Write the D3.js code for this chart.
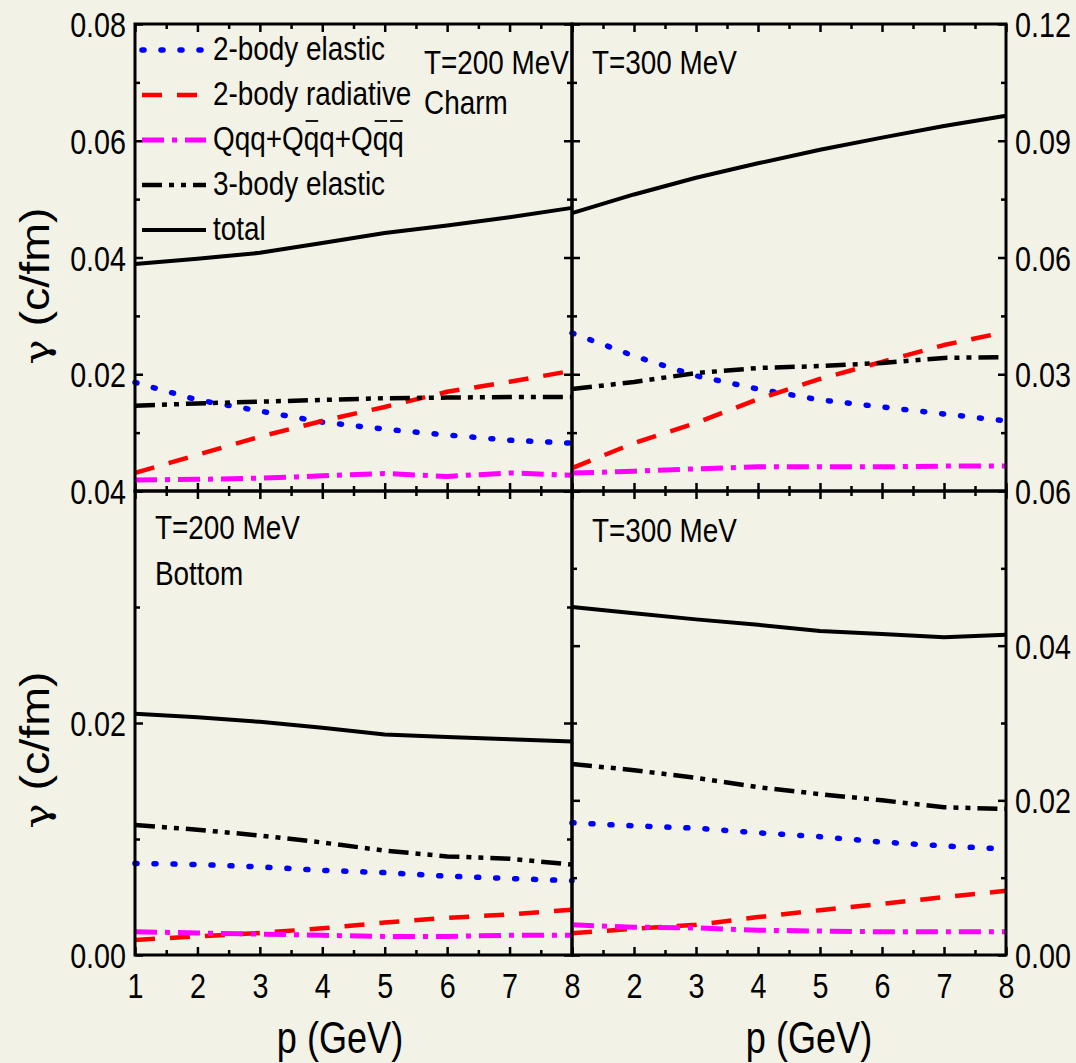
<!DOCTYPE html>
<html><head><meta charset="utf-8">
<script src="https://cdn.jsdelivr.net/npm/d3@7"></script>
<style>
html,body{margin:0;padding:0;background:#f2f2e6;}
svg{display:block;}
</style></head>
<body>
<svg id="chart" width="1076" height="1063"></svg>
<script>
// ---------- data ----------
const pValues = [1, 2, 3, 4, 5, 6, 7, 8];
const seriesNames = ["2-body elastic", "2-body radiative", "Qqq+Qqq+Qqq", "3-body elastic", "total"];

// Charm, T=200 MeV
const charm200_elastic2   = [0.0186, 0.0156, 0.0137, 0.0118, 0.0106, 0.0096, 0.0087, 0.0082];
const charm200_radiative2 = [0.0031, 0.0062, 0.0093, 0.0120, 0.0144, 0.0170, 0.0187, 0.0206];
const charm200_qqq        = [0.0019, 0.0020, 0.0022, 0.0026, 0.0030, 0.0025, 0.0031, 0.0027];
const charm200_elastic3   = [0.0146, 0.0150, 0.0153, 0.0156, 0.0159, 0.0160, 0.0161, 0.0161];
const charm200_total      = [0.0389, 0.0398, 0.0408, 0.0425, 0.0442, 0.0455, 0.0469, 0.0485];

// Charm, T=300 MeV
const charm300_elastic2   = [0.0406, 0.0347, 0.0296, 0.0262, 0.0234, 0.0216, 0.0198, 0.0180];
const charm300_radiative2 = [0.0059, 0.0123, 0.0175, 0.0236, 0.0288, 0.0332, 0.0375, 0.0409];
const charm300_qqq        = [0.0046, 0.0051, 0.0057, 0.0062, 0.0062, 0.0062, 0.0064, 0.0064];
const charm300_elastic3   = [0.0262, 0.0280, 0.0303, 0.0316, 0.0321, 0.0329, 0.0342, 0.0344];
const charm300_total      = [0.0714, 0.0762, 0.0805, 0.0842, 0.0877, 0.0908, 0.0938, 0.0964];

// Bottom, T=200 MeV
const bottom200_elastic2   = [0.0079, 0.0078, 0.0076, 0.0073, 0.0071, 0.0068, 0.0066, 0.0064];
const bottom200_radiative2 = [0.0013, 0.0016, 0.0019, 0.0023, 0.0028, 0.0032, 0.0035, 0.0039];
const bottom200_qqq        = [0.0020, 0.0019, 0.0018, 0.0017, 0.0016, 0.0016, 0.0017, 0.0017];
const bottom200_elastic3   = [0.0112, 0.0108, 0.0103, 0.0097, 0.0090, 0.0085, 0.0083, 0.0078];
const bottom200_total      = [0.0208, 0.0205, 0.0201, 0.0196, 0.0190, 0.0188, 0.0186, 0.0184];

// Bottom, T=300 MeV
const bottom300_elastic2   = [0.0171, 0.0167, 0.0164, 0.0158, 0.0153, 0.0146, 0.0141, 0.0137];
const bottom300_radiative2 = [0.0028, 0.0034, 0.0039, 0.0049, 0.0058, 0.0066, 0.0075, 0.0083];
const bottom300_qqq        = [0.0039, 0.0036, 0.0035, 0.0032, 0.0031, 0.0030, 0.0030, 0.0030];
const bottom300_elastic3   = [0.0247, 0.0239, 0.0229, 0.0217, 0.0208, 0.0200, 0.0191, 0.0189];
const bottom300_total      = [0.0450, 0.0442, 0.0434, 0.0427, 0.0419, 0.0415, 0.0411, 0.0414];

const xMajorTicks = [1, 2, 3, 4, 5, 6, 7, 8];
const xMinorTicks = [1.5, 2.5, 3.5, 4.5, 5.5, 6.5, 7.5];
const xLabelsBottomLeft = [1, 2, 3, 4, 5, 6, 7, 8];
const xLabelsBottomRight = [2, 3, 4, 5, 6, 7, 8];
const yMajorCharm200 = [0, 0.02, 0.04, 0.06, 0.08];
const yMinorCharm200 = [0.01, 0.03, 0.05, 0.07];
const yMajorCharm300 = [0, 0.03, 0.06, 0.09, 0.12];
const yMinorCharm300 = [0.015, 0.045, 0.075, 0.105];
const yMajorBottom200 = [0, 0.02, 0.04];
const yMinorBottom200 = [0.01, 0.03];
const yMajorBottom300 = [0, 0.02, 0.04, 0.06];
const yMinorBottom300 = [0.01, 0.03, 0.05];
const panelNotes = [["T=200 MeV", "Charm"], ["T=300 MeV"], ["T=200 MeV", "Bottom"], ["T=300 MeV"]];
const xTitle = "p (GeV)";
const yTitleSymbol = "γ";
const yTitleUnit = "(c/fm)";

// ---------- font detection ----------
function hasFont(name) {
  const c = document.createElement("canvas").getContext("2d");
  const s = "0.08 MeV Charm radiative";
  c.font = "40px monospace"; const a = c.measureText(s).width;
  c.font = "40px '" + name + "', monospace"; const b = c.measureText(s).width;
  return Math.abs(a - b) > 0.5;
}
const narrowOK = hasFont("Liberation Sans Narrow");
const NFONT = narrowOK ? "'Liberation Sans Narrow', 'Arial Narrow', sans-serif" : "'Liberation Sans', Arial, sans-serif";
const WFONT = "'Liberation Sans', Arial, sans-serif";

// ---------- styles ----------
const styles = [
  {color: "#0000ff", dash: "2,17", cap: "round", width: 5.5},
  {color: "#ff0000", dash: "20,15", cap: "butt", width: 4.5},
  {color: "#ff00ff", dash: "22,8,5,8", cap: "butt", width: 5},
  {color: "#000000", dash: "20,7,5,7,5,7", cap: "butt", width: 4.5},
  {color: "#000000", dash: null, cap: "butt", width: 4}
];

const svg = d3.select("#chart");
svg.append("rect").attr("width", 1076).attr("height", 1063).attr("fill", "#f2f2e6");

const X0 = 135, XM = 572, X1 = 1006;
const Y0 = 24, YM = 491, Y1 = 955;

const panels = [
  {x0: X0, x1: XM, y0: Y0, y1: YM, dom: [0, 0.08], maj: yMajorCharm200, min: yMinorCharm200, side: "left", skipZero: true, xlabels: null,
   data: [charm200_elastic2, charm200_radiative2, charm200_qqq, charm200_elastic3, charm200_total], notes: panelNotes[0], noteX: 424, noteY: 74, noteGap: 40},
  {x0: XM, x1: X1, y0: Y0, y1: YM, dom: [0, 0.12], maj: yMajorCharm300, min: yMinorCharm300, side: "right", skipZero: true, xlabels: null,
   data: [charm300_elastic2, charm300_radiative2, charm300_qqq, charm300_elastic3, charm300_total], notes: panelNotes[1], noteX: 592, noteY: 74, noteGap: 40},
  {x0: X0, x1: XM, y0: YM, y1: Y1, dom: [0, 0.04], maj: yMajorBottom200, min: yMinorBottom200, side: "left", skipZero: false, xlabels: xLabelsBottomLeft,
   data: [bottom200_elastic2, bottom200_radiative2, bottom200_qqq, bottom200_elastic3, bottom200_total], notes: panelNotes[2], noteX: 155, noteY: 539, noteGap: 46},
  {x0: XM, x1: X1, y0: YM, y1: Y1, dom: [0, 0.06], maj: yMajorBottom300, min: yMinorBottom300, side: "right", skipZero: false, xlabels: xLabelsBottomRight,
   data: [bottom300_elastic2, bottom300_radiative2, bottom300_qqq, bottom300_elastic3, bottom300_total], notes: panelNotes[3], noteX: 592, noteY: 542, noteGap: 46}
];

const fmt = d3.format(".2f");
const MAJ = 8, MIN = 5;

function styleAxis(g) {
  g.select(".domain").remove();
  g.selectAll(".tick line").attr("stroke", "#000").attr("stroke-width", 2.5);
  g.selectAll(".tick text").attr("fill", "#000").attr("font-family", NFONT).attr("font-size", 35).classed("n", true);
}

panels.forEach((P, pi) => {
  const x = d3.scaleLinear().domain([1, 8]).range([P.x0, P.x1]);
  const y = d3.scaleLinear().domain(P.dom).range([P.y1, P.y0]);
  const g = svg.append("g");

  // lines
  const line = d3.line().x((d, i) => x(pValues[i])).y(d => y(d));
  P.data.forEach((arr, si) => {
    const s = styles[si];
    g.append("path").datum(arr).attr("d", line)
      .attr("fill", "none").attr("stroke", s.color).attr("stroke-width", s.width)
      .attr("stroke-dasharray", s.dash).attr("stroke-linecap", s.cap).attr("stroke-linejoin", "round");
  });

  // axes: inward ticks on all sides
  const labAxisY = (P.side === "left" ? d3.axisLeft(y) : d3.axisRight(y))
    .tickValues(P.maj.filter(v => !(P.skipZero && v === 0))).tickSize(-MAJ).tickPadding(9).tickFormat(fmt);
  const gy = g.append("g").attr("transform", `translate(${P.side === "left" ? P.x0 : P.x1},0)`).call(labAxisY);
  styleAxis(gy);
  gy.selectAll(".tick text").attr("dy", "0.36em");
  const otherY = (P.side === "left" ? d3.axisRight(y) : d3.axisLeft(y)).tickValues(P.maj).tickSize(-MAJ).tickFormat("");
  styleAxis(g.append("g").attr("transform", `translate(${P.side === "left" ? P.x1 : P.x0},0)`).call(otherY));
  styleAxis(g.append("g").attr("transform", `translate(${P.x0},0)`).call(d3.axisLeft(y).tickValues(P.min).tickSize(-MIN).tickFormat("")));
  styleAxis(g.append("g").attr("transform", `translate(${P.x1},0)`).call(d3.axisRight(y).tickValues(P.min).tickSize(-MIN).tickFormat("")));

  const bottomAx = d3.axisBottom(x).tickValues(xMajorTicks).tickSize(-MAJ).tickPadding(18)
    .tickFormat(d => (P.xlabels && P.xlabels.includes(d)) ? d : "");
  const gb = g.append("g").attr("transform", `translate(0,${P.y1})`).call(bottomAx);
  styleAxis(gb);
  gb.selectAll(".tick text").attr("dy", "0.71em");
  styleAxis(g.append("g").attr("transform", `translate(0,${P.y1})`).call(d3.axisBottom(x).tickValues(xMinorTicks).tickSize(-MIN).tickFormat("")));
  styleAxis(g.append("g").attr("transform", `translate(0,${P.y0})`).call(d3.axisTop(x).tickValues(xMajorTicks).tickSize(-MAJ).tickFormat("")));
  styleAxis(g.append("g").attr("transform", `translate(0,${P.y0})`).call(d3.axisTop(x).tickValues(xMinorTicks).tickSize(-MIN).tickFormat("")));

  // frame
  g.append("rect").attr("x", P.x0).attr("y", P.y0).attr("width", P.x1 - P.x0).attr("height", P.y1 - P.y0)
    .attr("fill", "none").attr("stroke", "#000").attr("stroke-width", 3);

  // notes
  P.notes.forEach((t, k) => {
    g.append("text").attr("class", "n").attr("x", P.noteX).attr("y", P.noteY + k * P.noteGap)
      .attr("font-family", NFONT).attr("font-size", 34).attr("fill", "#000").text(t);
  });
});

// legend (top-left panel)
const legY = [50, 95, 140, 185, 230];
const lg = svg.append("g");
seriesNames.forEach((name, i) => {
  const s = styles[i];
  lg.append("line").attr("x1", 142).attr("x2", 206).attr("y1", legY[i]).attr("y2", legY[i])
    .attr("stroke", s.color).attr("stroke-width", s.width).attr("stroke-dasharray", s.dash).attr("stroke-linecap", s.cap);
  lg.append("text").attr("class", "n").attr("data-idx", i).attr("x", 213).attr("y", legY[i] + 10)
    .attr("font-family", NFONT).attr("font-size", 34).attr("fill", "#000").text(name);
});

// axis titles
[340, 809].forEach(cx => {
  svg.append("text").attr("class", "n").attr("x", cx).attr("y", 1053).attr("text-anchor", "middle")
    .attr("font-family", NFONT).attr("font-size", 44).attr("fill", "#000").text(xTitle);
});
[286, 750].forEach(cy => {
  const t = svg.append("text").attr("transform", `translate(49,${cy}) rotate(-90)`).attr("text-anchor", "middle")
    .attr("font-family", WFONT).attr("font-size", 40).attr("fill", "#000")
    .attr("textLength", 157).attr("lengthAdjust", "spacingAndGlyphs");
  t.append("tspan").attr("font-family", "'DejaVu Serif', serif").attr("font-size", 36).text(yTitleSymbol);
  t.append("tspan").text(" " + yTitleUnit);
});

// narrow fallback
if (!narrowOK) {
  svg.selectAll("text.n").each(function () {
    const L = this.getComputedTextLength();
    if (L > 0) { this.setAttribute("textLength", L * 0.82); this.setAttribute("lengthAdjust", "spacingAndGlyphs"); }
  });
}

// overbars for antiquarks in "Qqq+Qqq+Qqq"
const qt = lg.select("text[data-idx='2']").node();
[5, 9, 10].forEach(ci => {
  const e = qt.getExtentOfChar(ci);
  lg.append("line").attr("x1", e.x + 2).attr("x2", e.x + e.width - 1)
    .attr("y1", legY[2] - 19).attr("y2", legY[2] - 19).attr("stroke", "#000").attr("stroke-width", 1.8);
});
</script>
</body></html>
